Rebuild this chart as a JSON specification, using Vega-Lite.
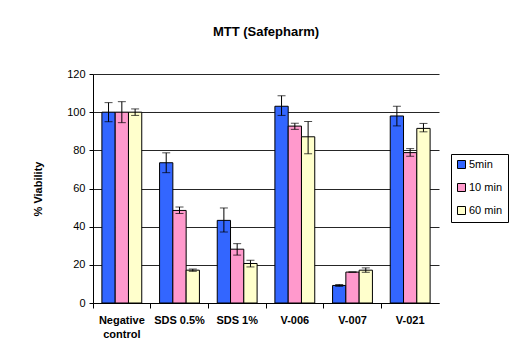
{
  "$schema": "https://vega.github.io/schema/vega-lite/v6.json",
  "width": 346,
  "height": 229,
  "autosize": {"type": "none"},
  "padding": {"left": 93, "top": 74, "right": 73, "bottom": 56},
  "background": "white",
  "title": {"text": "MTT (Safepharm)", "font": "Liberation Sans", "fontSize": 13, "fontWeight": "bold", "color": "black", "offset": 29},
  "config": {
    "font": "Liberation Sans",
    "view": {"stroke": null},
    "text": {"font": "Liberation Sans"},
    "axis": {"labelColor": "black", "titleColor": "black", "domainColor": "black", "tickColor": "black", "labelFont": "Liberation Sans", "titleFont": "Liberation Sans"},
    "legend": {"labelFont": "Liberation Sans"}
  },
  "data": {"values": [
    {"cat": "Negative control", "time": "5min", "v": 100, "lo": 95, "hi": 105},
    {"cat": "Negative control", "time": "10 min", "v": 100, "lo": 94.5, "hi": 105.5},
    {"cat": "Negative control", "time": "60 min", "v": 100, "lo": 98.3, "hi": 101.7},
    {"cat": "SDS 0.5%", "time": "5min", "v": 73.5, "lo": 68.3, "hi": 78.7},
    {"cat": "SDS 0.5%", "time": "10 min", "v": 48.5, "lo": 46.9, "hi": 50.3},
    {"cat": "SDS 0.5%", "time": "60 min", "v": 17.2, "lo": 16.6, "hi": 17.8},
    {"cat": "SDS 1%", "time": "5min", "v": 43.3, "lo": 37.2, "hi": 49.8},
    {"cat": "SDS 1%", "time": "10 min", "v": 28.2, "lo": 25.1, "hi": 31.1},
    {"cat": "SDS 1%", "time": "60 min", "v": 20.7, "lo": 18.9, "hi": 22.4},
    {"cat": "V-006", "time": "5min", "v": 103.1, "lo": 98.3, "hi": 108.6},
    {"cat": "V-006", "time": "10 min", "v": 92.7, "lo": 91, "hi": 94.2},
    {"cat": "V-006", "time": "60 min", "v": 87.1, "lo": 78.2, "hi": 95.1},
    {"cat": "V-007", "time": "5min", "v": 9.2, "lo": 8.7, "hi": 9.7},
    {"cat": "V-007", "time": "10 min", "v": 16.2, "lo": 16.2, "hi": 16.2},
    {"cat": "V-007", "time": "60 min", "v": 17.2, "lo": 16.1, "hi": 18.4},
    {"cat": "V-021", "time": "5min", "v": 98, "lo": 92.8, "hi": 103.1},
    {"cat": "V-021", "time": "10 min", "v": 78.8, "lo": 76.9, "hi": 80.9},
    {"cat": "V-021", "time": "60 min", "v": 91.5, "lo": 89.7, "hi": 94.1}
  ]},
  "encoding": {
    "x": {"field": "cat", "type": "nominal", "sort": null,
      "scale": {"paddingInner": 0, "paddingOuter": 0},
      "axis": {"title": null, "labelAngle": 0, "labelFontSize": 11, "labelFontWeight": "bold", "bandPosition": 0, "tickSize": 5, "labelPadding": 6, "domainWidth": 1, "labelOverlap": false,
        "labelExpr": "datum.value == 'Negative control' ? ['Negative', 'control'] : datum.value", "labelLineHeight": 14}},
    "xOffset": {"field": "time", "type": "nominal", "scale": {"domain": ["5min", "10 min", "60 min"], "paddingInner": 0, "paddingOuter": 0.67}}
  },
  "layer": [
    {
      "mark": {"type": "bar", "stroke": "black", "strokeWidth": 1},
      "encoding": {
        "y": {"field": "v", "type": "quantitative", "scale": {"domain": [0, 120]},
          "axis": {"title": "% Viability", "titleFontSize": 11, "titleFontWeight": "bold", "titlePadding": 23, "labelFontSize": 11, "values": [0, 20, 40, 60, 80, 100, 120], "tickCount": 7, "labelOverlap": false, "grid": true, "gridColor": "black", "gridOpacity": 0.85, "tickSize": 4, "labelPadding": 4}},
        "color": {"field": "time", "type": "nominal",
          "scale": {"domain": ["5min", "10 min", "60 min"], "range": ["#3366FF", "#FF99CC", "#FFFFCC"]},
          "legend": {"title": null, "orient": "none", "legendX": 358, "legendY": 80, "symbolType": "square", "symbolSize": 64, "symbolStrokeColor": "black", "symbolStrokeWidth": 1, "labelFontSize": 11, "labelColor": "black", "labelFont": "Liberation Sans", "strokeColor": "black", "fillColor": "white", "padding": 5, "rowPadding": 10, "labelOffset": 2}}
      }
    },
    {
      "mark": {"type": "rule", "color": "black", "strokeWidth": 1},
      "encoding": {"y": {"field": "lo", "type": "quantitative", "axis": {"title": "% Viability", "titleFontSize": 11, "titleFontWeight": "bold", "titlePadding": 23, "labelFontSize": 11, "values": [0, 20, 40, 60, 80, 100, 120], "tickCount": 7, "labelOverlap": false, "grid": true, "gridColor": "black", "gridOpacity": 0.85, "tickSize": 4, "labelPadding": 4}}, "y2": {"field": "hi"}}
    },
    {
      "mark": {"type": "tick", "color": "black", "thickness": 1, "size": 8},
      "encoding": {"y": {"field": "lo", "type": "quantitative", "axis": {"title": "% Viability", "titleFontSize": 11, "titleFontWeight": "bold", "titlePadding": 23, "labelFontSize": 11, "values": [0, 20, 40, 60, 80, 100, 120], "tickCount": 7, "labelOverlap": false, "grid": true, "gridColor": "black", "gridOpacity": 0.85, "tickSize": 4, "labelPadding": 4}}}
    },
    {
      "mark": {"type": "tick", "color": "black", "thickness": 1, "size": 8},
      "encoding": {"y": {"field": "hi", "type": "quantitative", "axis": {"title": "% Viability", "titleFontSize": 11, "titleFontWeight": "bold", "titlePadding": 23, "labelFontSize": 11, "values": [0, 20, 40, 60, 80, 100, 120], "tickCount": 7, "labelOverlap": false, "grid": true, "gridColor": "black", "gridOpacity": 0.85, "tickSize": 4, "labelPadding": 4}}}
    }
  ]
}
